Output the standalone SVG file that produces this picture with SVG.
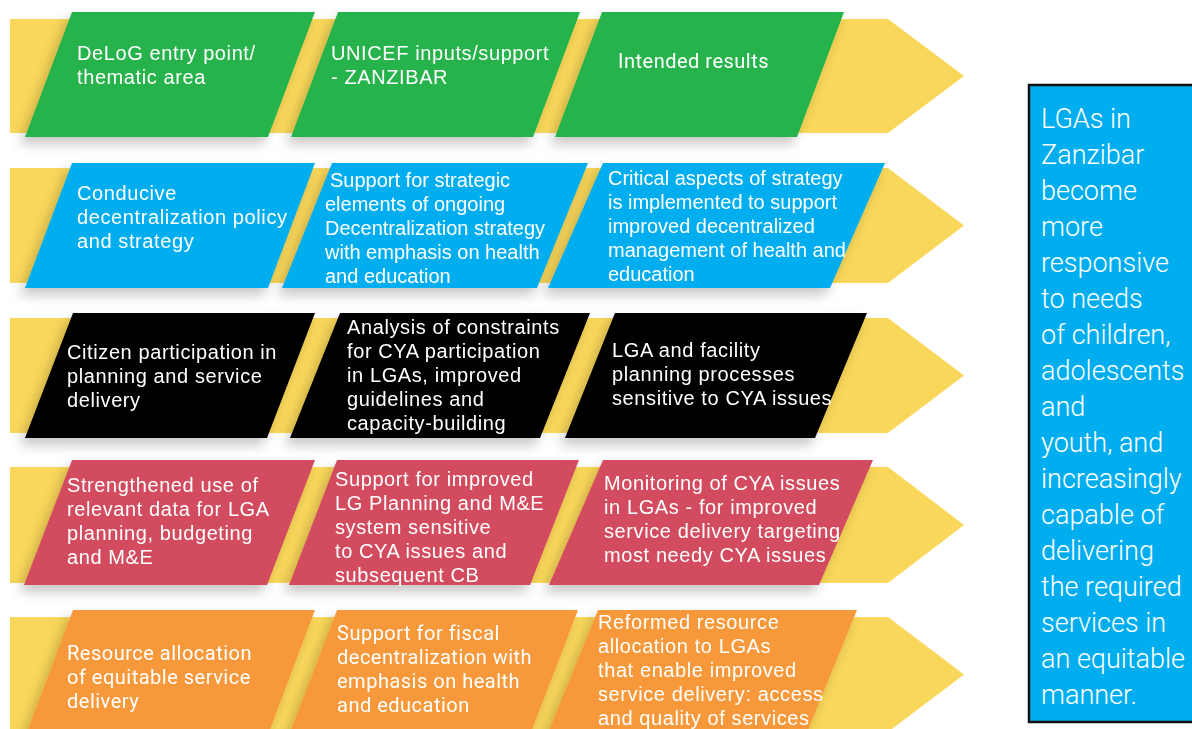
<svg xmlns="http://www.w3.org/2000/svg" width="1192" height="729" viewBox="0 0 1192 729">
<defs>
<filter id="sh" x="-10%" y="-20%" width="120%" height="150%">
<feDropShadow dx="-5" dy="7" stdDeviation="6" flood-color="#000" flood-opacity="0.22"/>
</filter>
<style>
.band{fill:#f9d75a}
.g{fill:#27b34b}
.b{fill:#00aeef}
.k{fill:#000}
.r{fill:#d24c5e}
.o{fill:#f7993b}
.t{font-family:"Liberation Sans",Arial,sans-serif;font-size:20px;letter-spacing:0.6px;fill:#fff}
.tn{font-family:"Liberation Sans",Arial,sans-serif;font-size:20px;letter-spacing:0px;fill:#fff}
.tr{font-family:Roboto,"Liberation Sans",sans-serif;font-size:20px;letter-spacing:0.5px;fill:#fff}
.side{font-family:Roboto,"Liberation Sans",sans-serif;font-weight:300;font-size:27px;fill:#fff}
</style>
</defs>
<rect width="1192" height="729" fill="#fff"/>
<g id="connectors">
<polygon class="band" points="10,19 888,19 964,76 888,133 10,133"/>
<polygon class="band" points="10,168 888,168 964,225.5 888,283 10,283"/>
<polygon class="band" points="10,318 888,318 964,375.5 888,433 10,433"/>
<polygon class="band" points="10,467 888,467 964,525 888,583 10,583"/>
<polygon class="band" points="10,617 888,617 964,674.5 888,732 10,732"/>
</g>
<g filter="url(#sh)">
<g id="n-entry"><polygon class="g" points="72,12 315,12 268,137 25,137"/>
<text class="t" x="77" y="60">DeLoG entry point/</text><text class="t" x="77" y="84">thematic area</text></g>
<g id="n-inputs"><polygon class="g" points="338,12 580,12 533,137 291,137"/>
<text class="t" x="331" y="60">UNICEF inputs/support</text><text class="t" x="331" y="84">- ZANZIBAR</text></g>
<g id="n-results"><polygon class="g" points="602,12 844,12 797,137 555,137"/>
<text class="tr" x="618" y="68">Intended results</text></g>
</g>
<g filter="url(#sh)">
<g id="n-policy"><polygon class="b" points="72,163 315,163 268,288 25,288"/>
<text class="t" x="77" y="200">Conducive</text><text class="t" x="77" y="224">decentralization policy</text><text class="t" x="77" y="248">and strategy</text></g>
<g id="n-strategy-support"><polygon class="b" points="332,163 588,163 537,288 282,288"/>
<text class="tn" x="330" y="187">Support for strategic</text><text class="tn" x="325" y="211">elements of ongoing</text><text class="tn" x="325" y="235">Decentralization strategy</text><text class="tn" x="325" y="259">with emphasis on health</text><text class="tn" x="325" y="283">and education</text></g>
<g id="n-strategy-result"><polygon class="b" points="603,163 885,163 830,288 548,288"/>
<text class="tn" x="608" y="185">Critical aspects of strategy</text><text class="tn" x="608" y="209">is implemented to support</text><text class="tn" x="608" y="233">improved decentralized</text><text class="tn" x="608" y="257">management of health and</text><text class="tn" x="608" y="281">education</text></g>
</g>
<g filter="url(#sh)">
<g id="n-citizen"><polygon class="k" points="73,313 315,313 267,438 25,438"/>
<text class="t" x="67" y="359">Citizen participation in</text><text class="t" x="67" y="383">planning and service</text><text class="t" x="67" y="407">delivery</text></g>
<g id="n-analysis"><polygon class="k" points="340,313 590,313 540,438 290,438"/>
<text class="t" x="347" y="334">Analysis of constraints</text><text class="t" x="347" y="358">for CYA participation</text><text class="t" x="347" y="382">in LGAs, improved</text><text class="t" x="347" y="406">guidelines and</text><text class="t" x="347" y="430">capacity-building</text></g>
<g id="n-planning"><polygon class="k" points="615,313 867,313 815,438 565,438"/>
<text class="t" x="612" y="357">LGA and facility</text><text class="t" x="612" y="381">planning processes</text><text class="t" x="612" y="405">sensitive to CYA issues</text></g>
</g>
<g filter="url(#sh)">
<g id="n-data"><polygon class="r" points="72,460 315,460 267,585 24,585"/>
<text class="t" x="67" y="492">Strengthened use of</text><text class="t" x="67" y="516">relevant data for LGA</text><text class="t" x="67" y="540">planning, budgeting</text><text class="t" x="67" y="564">and M&amp;E</text></g>
<g id="n-me"><polygon class="r" points="337,460 579,460 530,585 289,585"/>
<text class="t" x="335" y="486">Support for improved</text><text class="t" x="335" y="510">LG Planning and M&amp;E</text><text class="t" x="335" y="534">system sensitive</text><text class="t" x="335" y="558">to CYA issues and</text><text class="t" x="335" y="582">subsequent CB</text></g>
<g id="n-monitoring"><polygon class="r" points="603,460 873,460 819,585 549,585"/>
<text class="t" x="604" y="490">Monitoring of CYA issues</text><text class="t" x="604" y="514">in LGAs - for improved</text><text class="t" x="604" y="538">service delivery targeting</text><text class="t" x="604" y="562">most needy CYA issues</text></g>
</g>
<g filter="url(#sh)">
<g id="n-resource"><polygon class="o" points="73,610 315,610 268,735 26,735"/>
<text class="tr" x="67" y="660">Resource allocation</text><text class="tr" x="67" y="684">of equitable service</text><text class="tr" x="67" y="708">delivery</text></g>
<g id="n-fiscal"><polygon class="o" points="337,610 578,610 530,735 289,735"/>
<text class="tr" x="337" y="640">Support for fiscal</text><text class="tr" x="337" y="664">decentralization with</text><text class="tr" x="337" y="688">emphasis on health</text><text class="tr" x="337" y="712">and education</text></g>
<g id="n-reformed"><polygon class="o" points="598,610 857,610 806,735 547,735"/>
<text class="t" x="598" y="629">Reformed resource</text><text class="t" x="598" y="653">allocation to LGAs</text><text class="t" x="598" y="677">that enable improved</text><text class="t" x="598" y="701">service delivery: access</text><text class="t" x="598" y="725">and quality of services</text></g>
</g>
<g id="n-goal">
<rect x="1029" y="85" width="170" height="637" fill="#00aeef" stroke="#111" stroke-width="2.5"/>
<text class="side" x="1041">
<tspan x="1041" y="128">LGAs in</tspan>
<tspan x="1041" y="164">Zanzibar</tspan>
<tspan x="1041" y="200">become</tspan>
<tspan x="1041" y="236">more</tspan>
<tspan x="1041" y="272">responsive</tspan>
<tspan x="1041" y="308">to needs</tspan>
<tspan x="1041" y="344">of children,</tspan>
<tspan x="1041" y="380">adolescents</tspan>
<tspan x="1041" y="416">and</tspan>
<tspan x="1041" y="452">youth, and</tspan>
<tspan x="1041" y="488">increasingly</tspan>
<tspan x="1041" y="524">capable of</tspan>
<tspan x="1041" y="560">delivering</tspan>
<tspan x="1041" y="596">the required</tspan>
<tspan x="1041" y="632">services in</tspan>
<tspan x="1041" y="668">an equitable</tspan>
<tspan x="1041" y="704">manner.</tspan>
</text>
</g>
</svg>
